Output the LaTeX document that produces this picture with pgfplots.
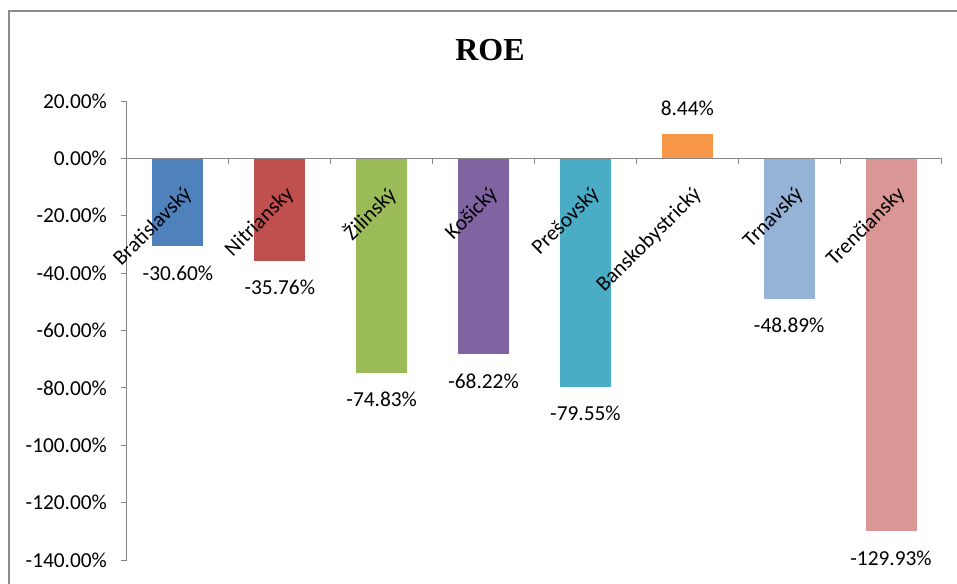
\documentclass[border=0pt]{standalone}
\usepackage{fontspec}
\setmainfont{Carlito}
\newfontfamily\titlefont{Liberation Serif}
\usepackage{pgfplots}
\pgfplotsset{compat=1.18}

\definecolor{cBA}{HTML}{4F81BD}
\definecolor{cNR}{HTML}{C0504D}
\definecolor{cZA}{HTML}{9BBB59}
\definecolor{cKE}{HTML}{8064A2}
\definecolor{cPO}{HTML}{4BACC6}
\definecolor{cBB}{HTML}{F79646}
\definecolor{cTT}{HTML}{95B3D7}
\definecolor{cTN}{HTML}{D99694}
\definecolor{axgray}{HTML}{868686}
\definecolor{framegray}{HTML}{8C8C8C}

\newcommand{\lbl}{\fontsize{16}{19}\selectfont}

\begin{document}
\begin{tikzpicture}
\path[use as bounding box] (-95.25pt,-17.25pt) rectangle (622.5pt,420pt);
\draw[framegray, line width=1.5pt] (-88.5pt,-40pt) -- (-88.5pt,411.75pt) -- (660pt,411.75pt);
\begin{axis}[
    scale only axis,
    width=611.25pt, height=344.25pt,
    axis on top,
    ybar, bar width=0.5, bar shift=0pt,
    xmin=-0.5, xmax=7.5,
    ymin=-140, ymax=20,
    axis x line=middle, axis y line=left,
    axis line style={-, draw=axgray, line width=0.75pt},
    hide obscured x ticks=false, hide obscured y ticks=false,
    tick align=outside,
    major tick length=4.5pt, minor tick length=4.5pt,
    xtick={0,...,7},
    xticklabels={Bratislavský, Nitriansky, Žilinský, Košický, Prešovský, Banskobystrický, Trnavský, Trenčiansky},
    minor xtick={-0.5,0.5,...,7.5},
    major x tick style={draw=none},
    minor x tick style={draw=axgray, line width=0.75pt},
    y tick style={draw=axgray, line width=0.75pt},
    xticklabel style={font=\lbl, rotate=45, anchor=east, xshift=-5pt, yshift=-20pt},
    ytick={-140,-120,...,20},
    /pgf/number format/assume math mode=true,
    yticklabel={\pgfmathprintnumber[fixed,fixed zerofill,precision=2]{\tick}\%},
    yticklabel style={font=\lbl, xshift=-7pt},
    nodes near coords={\pgfmathprintnumber[fixed,fixed zerofill,precision=2]{\pgfplotspointmeta}\%},
    nodes near coords style={font=\lbl},
    clip=false,
]
\addplot[bar shift=0pt, fill=cBA, draw=none, every node near coord/.append style={yshift=-11pt}] coordinates {(0,-30.60)};
\addplot[bar shift=0pt, fill=cNR, draw=none, every node near coord/.append style={yshift=-11pt}] coordinates {(1,-35.76)};
\addplot[bar shift=0pt, fill=cZA, draw=none, every node near coord/.append style={yshift=-11pt}] coordinates {(2,-74.83)};
\addplot[bar shift=0pt, fill=cKE, draw=none, every node near coord/.append style={yshift=-11pt}] coordinates {(3,-68.22)};
\addplot[bar shift=0pt, fill=cPO, draw=none, every node near coord/.append style={yshift=-11pt}] coordinates {(4,-79.55)};
\addplot[bar shift=0pt, fill=cBB, draw=none, every node near coord/.append style={yshift=10pt}] coordinates {(5,8.44)};
\addplot[bar shift=0pt, fill=cTT, draw=none, every node near coord/.append style={yshift=-11pt}] coordinates {(6,-48.89)};
\addplot[bar shift=0pt, fill=cTN, draw=none, every node near coord/.append style={yshift=-11pt}] coordinates {(7,-129.93)};
\node[font=\titlefont\bfseries\fontsize{24}{28}\selectfont] at (axis description cs:0.4454,1.111) {ROE};
\end{axis}
\end{tikzpicture}
\end{document}
